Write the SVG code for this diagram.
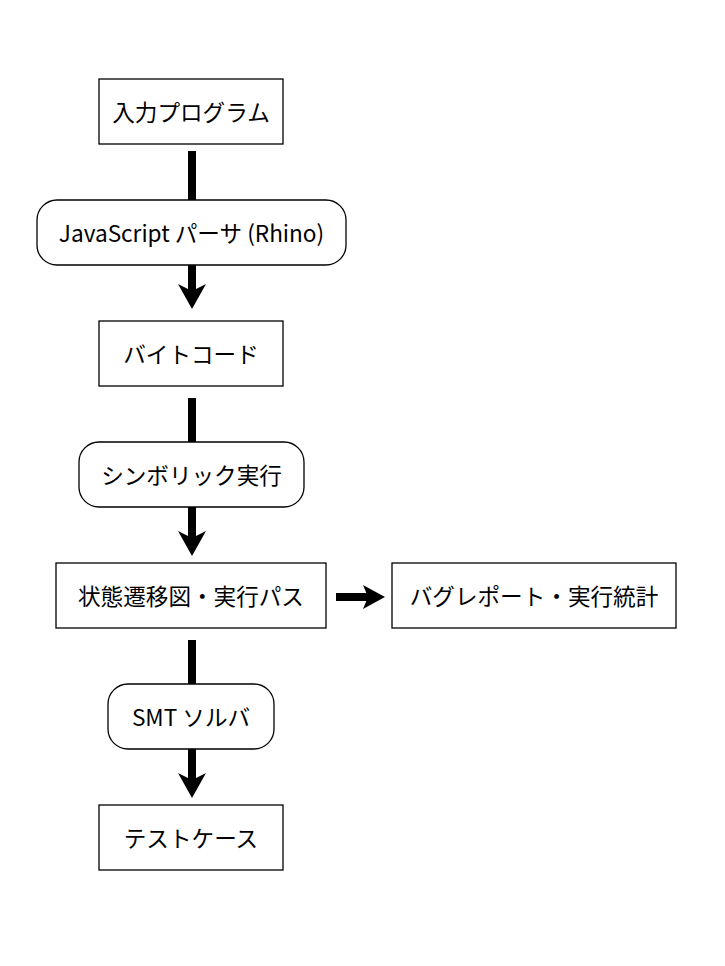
<svg xmlns="http://www.w3.org/2000/svg" width="725" height="966" viewBox="0 0 725 966">
<style>
.box{fill:#fff;stroke:#000;stroke-width:1.3}
.t{font-family:"Noto Sans CJK JP","Noto Sans",sans-serif;font-size:22.6px;fill:#000;text-anchor:middle;dominant-baseline:central}
.sh{stroke:#000;stroke-width:8;fill:none}
.hd{fill:#000}
</style>
<rect width="725" height="966" fill="#fff"/>
<g id="connectors">
<line class="sh" x1="192" y1="151" x2="192" y2="200"/>
<line class="sh" x1="192" y1="265" x2="192" y2="294"/>
<path class="hd" d="M192,309 L178,284 L192,291 L206,284 Z"/>
<line class="sh" x1="192" y1="398" x2="192" y2="442"/>
<line class="sh" x1="192" y1="507" x2="192" y2="541"/>
<path class="hd" d="M192,556 L178,531 L192,538 L206,531 Z"/>
<line class="sh" x1="336" y1="597" x2="372" y2="597"/>
<path class="hd" d="M385,597 L363,585 L368,597 L363,609 Z"/>
<line class="sh" x1="192" y1="640" x2="192" y2="684"/>
<line class="sh" x1="192" y1="749" x2="192" y2="783"/>
<path class="hd" d="M192,798 L178,773 L192,780 L206,773 Z"/>
</g>
<g id="n1"><rect class="box" x="99" y="79" width="184" height="65"/><text class="t" x="191" y="111">入力プログラム</text></g>
<g id="n2"><rect class="box" x="37" y="200" width="309" height="65" rx="20"/><text class="t" x="191.5" y="232">JavaScript パーサ (Rhino)</text></g>
<g id="n3"><rect class="box" x="99" y="321" width="184" height="65"/><text class="t" x="191" y="353">バイトコード</text></g>
<g id="n4"><rect class="box" x="79" y="442" width="225" height="65" rx="20"/><text class="t" x="191.5" y="474">シンボリック実行</text></g>
<g id="n5"><rect class="box" x="56" y="563" width="270" height="65"/><text class="t" x="191" y="595">状態遷移図・実行パス</text></g>
<g id="n6"><rect class="box" x="392" y="563" width="284" height="65"/><text class="t" x="534" y="595">バグレポート・実行統計</text></g>
<g id="n7"><rect class="box" x="108" y="684" width="166" height="65" rx="20"/><text class="t" x="191" y="716">SMT ソルバ</text></g>
<g id="n8"><rect class="box" x="99" y="805" width="184" height="65"/><text class="t" x="191" y="837">テストケース</text></g>
</svg>
